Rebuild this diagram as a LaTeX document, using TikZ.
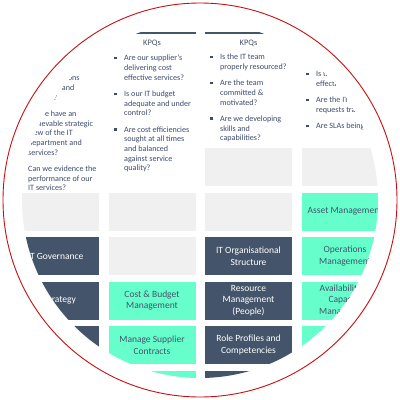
\documentclass[tikz,border=0pt]{standalone}
\usepackage{fontspec}
\setmainfont{Carlito}
\usetikzlibrary{positioning}

\definecolor{slate}{HTML}{44546A}
\definecolor{mint}{HTML}{66FFCC}
\definecolor{pale}{HTML}{F0F0F0}
\definecolor{kpqtext}{HTML}{3E4B6E}
\definecolor{ringred}{HTML}{C81010}

% bullet and hanging indent for the question lists
\newcommand{\kb}{\makebox[10pt][l]{\raisebox{1.6pt}{\rule{2.4pt}{2.4pt}}}}
\newcommand{\ki}{\hspace*{10pt}}

\begin{document}
\begin{tikzpicture}[x=1pt, y=-1pt, node distance=6.5pt and 9.5pt,
    cell/.style={rectangle, minimum width=87pt, minimum height=38pt, inner sep=1pt, outer sep=0pt, align=center, font=\fontsize{9.5}{11.5}\selectfont},
    blankbox/.style={cell, fill=pale},
    govbox/.style={cell, fill=slate, text=white},
    procbox/.style={cell, fill=mint, text=slate},
    kpq/.style={anchor=north west, align=left, inner sep=0pt, text=kpqtext, font=\fontsize{8.1}{9.7}\selectfont},
    head/.style={text=slate, inner sep=0pt, font=\fontsize{8.4}{10}\selectfont}]
  \useasboundingbox (0,0) rectangle (400,400);
  \fill[white] (0,0) rectangle (400,400);
  \begin{scope}
    \clip (200,200) circle[radius=178pt];
    % grid of boxes
    \node[blankbox, anchor=north west] (a3) at (205,148) {};
    \node[blankbox, right=of a3] (a4) {};
    \node[blankbox, below=of a3] (b3) {};
    \node[procbox, right=of b3] (b4) {Asset Management};
    \node[blankbox, left=of b3] (b2) {};
    \node[blankbox, left=of b2] (b1) {};
    \node[govbox, below=of b1] (c1) {IT Governance};
    \node[blankbox, right=of c1] (c2) {};
    \node[govbox, right=of c2] (c3) {IT Organisational\\Structure};
    \node[procbox, right=of c3] (c4) {Operations\\Management};
    \node[govbox, below=of c1] (d1) {IT Strategy};
    \node[procbox, right=of d1] (d2) {Cost \& Budget\\Management};
    \node[govbox, right=of d2] (d3) {Resource\\Management\\(People)};
    \node[procbox, right=of d3] (d4) {Availability \&\\Capacity\\Management};
    \node[govbox, below=of d1] (e1) {};
    \node[procbox, right=of e1] (e2) {Manage Supplier\\Contracts};
    \node[govbox, right=of e2] (e3) {Role Profiles and\\Competencies};
    \node[procbox, right=of e3] (e4) {};
    \node[procbox, below=of e2] (f2) {};
    \node[govbox, below=of e3] (f3) {};
    % column headers
    \draw[slate, line width=1.2pt] (b2.west |- 0,33) -- (b2.east |- 0,33);
    \draw[slate, line width=1.2pt] (b3.west |- 0,33) -- (b3.east |- 0,33);
    \node[head] (kpqhead2) at (b2.center |- 0,43) {KPQs};
    \node[head] (kpqhead3) at (b3.center |- 0,43) {KPQs};
    % question lists
    \node[kpq] (kpq1) at (18,75) {\kb Are IT decisions\\ \ki fast, clear and\\ \ki rational?\\[6.5pt]
      \kb Do we have an\\ \ki achievable strategic\\ \ki view of the IT\\ \ki department and\\ \ki services?\\[6.5pt]
      \kb Can we evidence the\\ \ki performance of our\\ \ki IT services?};
    \node[kpq] (kpq2) at (114,55) {\kb Are our supplier's\\ \ki delivering cost\\ \ki effective services?\\[6.5pt]
      \kb Is our IT budget\\ \ki adequate and under\\ \ki control?\\[6.5pt]
      \kb Are cost efficiencies\\ \ki sought at all times\\ \ki and balanced\\ \ki against service\\ \ki quality?};
    \node[kpq] (kpq3) at (210,54) {\kb Is the IT team\\ \ki properly resourced?\\[6.5pt]
      \kb Are the team\\ \ki committed \&\\ \ki motivated?\\[6.5pt]
      \kb Are we developing\\ \ki skills and\\ \ki capabilities?};
    \node[kpq] (kpq4) at (306,71) {\kb Is the IT service\\ \ki effective?\\[6.5pt]
      \kb Are the IT service\\ \ki requests tracked?\\[6.5pt]
      \kb Are SLAs being met?};
  \end{scope}
  \draw[ringred, line width=0.9pt] (200,200) circle[radius=197pt];
\end{tikzpicture}
\end{document}
